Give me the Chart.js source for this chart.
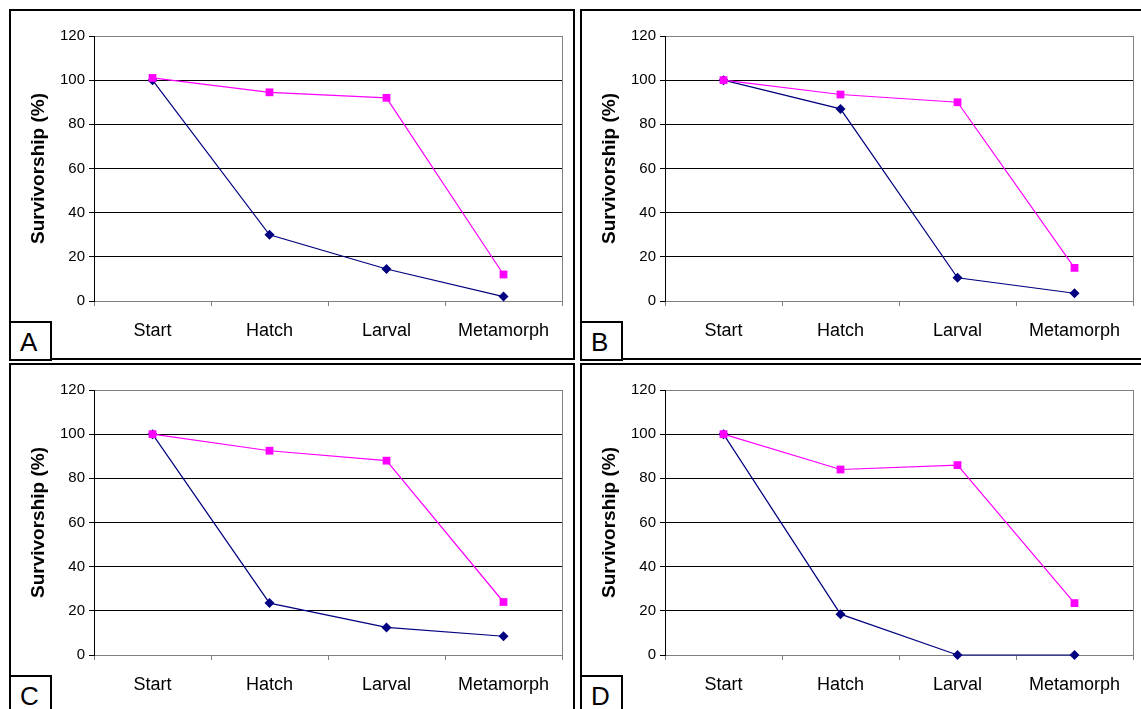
<!DOCTYPE html>
<html>
<head>
<meta charset="utf-8">
<script src="https://cdn.jsdelivr.net/npm/chart.js@4"></script>
<style>
body { margin: 0; background: #fff; width: 1141px; height: 709px; overflow: hidden; position: relative; font-family: 'Liberation Sans', Arial, sans-serif; }
.panel { position: absolute; border: 2px solid #000; box-sizing: border-box; }
.tag { position: absolute; border: 2px solid #000; box-sizing: border-box; background: #fff; width: 43px; height: 40px; font-size: 26px; line-height: 38px; padding-left: 9px; }
canvas { position: absolute; }
</style>
</head>
<body>
<script>
// survivorship per stage
let stages = ['Start', 'Hatch', 'Larval', 'Metamorph'];

let pinkA = [101, 94.5, 92, 12];
let navyA = [100, 30, 14.5, 2];
let pinkB = [100, 93.5, 90, 15];
let navyB = [100, 87, 10.5, 3.5];
let pinkC = [100, 92.5, 88, 24];
let navyC = [100, 23.5, 12.5, 8.5];
let pinkD = [100, 84, 86, 23.5];
let navyD = [100, 18.5, 0, 0];

let yMin = 0, yMax = 120, yStep = 20;

let colors = { pink: '#ff00ff', navy: '#000080', grid: '#000', frame: '#808080' };

let panels = [
    { letter: 'A', left: 9,   top: 9,   pink: pinkA, navy: navyA },
    { letter: 'B', left: 580, top: 9,   pink: pinkB, navy: navyB },
    { letter: 'C', left: 9,   top: 363, pink: pinkC, navy: navyC },
    { letter: 'D', left: 580, top: 363, pink: pinkD, navy: navyD },
];

// gray right edge of the plot area
let frameRight = {
    id: 'frameRight',
    beforeDatasetsDraw(chart) {
        let a = chart.chartArea;
        let ctx = chart.ctx;
        ctx.save();
        ctx.strokeStyle = colors.frame;
        ctx.lineWidth = 1;
        ctx.beginPath();
        ctx.moveTo(Math.round(a.right) + 0.5, a.top);
        ctx.lineTo(Math.round(a.right) + 0.5, a.bottom);
        ctx.stroke();
        ctx.restore();
    }
};

function makePanel(p) {
    let box = document.createElement('div');
    box.className = 'panel';
    box.style.left = p.left + 'px';
    box.style.top = p.top + 'px';
    box.style.width = (p.left > 300 ? 600 : 566) + 'px';
    box.style.height = (p.top > 300 ? 400 : 351) + 'px';
    document.body.appendChild(box);

    let cv = document.createElement('canvas');
    cv.width = 566;
    cv.height = 351;
    cv.style.left = p.left + 'px';
    cv.style.top = p.top + 'px';
    document.body.appendChild(cv);

    let tag = document.createElement('div');
    tag.className = 'tag';
    tag.textContent = p.letter;
    tag.style.left = p.left + 'px';
    tag.style.top = (p.top + 312) + 'px';
    document.body.appendChild(tag);

    new Chart(cv.getContext('2d'), {
        type: 'line',
        data: {
            labels: stages,
            datasets: [
                {
                    data: p.navy,
                    order: 2,
                    borderColor: colors.navy,
                    backgroundColor: colors.navy,
                    borderWidth: 1.2,
                    pointStyle: 'rectRot',
                    pointRadius: 5,
                    pointBorderWidth: 0,
                    clip: false,
                },
                {
                    data: p.pink,
                    order: 1,
                    borderColor: colors.pink,
                    backgroundColor: colors.pink,
                    borderWidth: 1.2,
                    pointStyle: 'rect',
                    pointRadius: 5.5,
                    pointBorderWidth: 0,
                    clip: false,
                },
            ]
        },
        options: {
            responsive: false,
            animation: false,
            layout: { padding: { top: 27, right: 13, left: 0, bottom: 0 } },
            plugins: { legend: { display: false }, tooltip: { enabled: false } },
            scales: {
                x: {
                    offset: true,
                    grid: { offset: true, drawOnChartArea: false, tickLength: 5, color: colors.frame },
                    border: { color: colors.frame, width: 1 },
                    ticks: { color: '#000', padding: 14, font: { family: "'Liberation Sans', Arial", size: 18 } },
                    afterFit: (s) => { s.height = 59; },
                },
                y: {
                    min: yMin,
                    max: yMax,
                    ticks: { stepSize: yStep, color: '#000', padding: 4, font: { family: "'Liberation Sans', Arial", size: 15 } },
                    grid: {
                        tickLength: 5,
                        tickColor: '#000',
                        color: (c) => (c.tick && (c.tick.value === yMin || c.tick.value === yMax)) ? colors.frame : colors.grid,
                    },
                    border: { color: '#000', width: 1 },
                    title: {
                        display: true,
                        text: 'Survivorship (%)',
                        color: '#000',
                        padding: { top: 18, bottom: 0 },
                        font: { family: "'Liberation Sans', Arial", size: 19, weight: 'bold' },
                    },
                    afterFit: (s) => { s.width = 85; },
                }
            }
        },
        plugins: [frameRight]
    });
}

panels.forEach(makePanel);
</script>
</body>
</html>
